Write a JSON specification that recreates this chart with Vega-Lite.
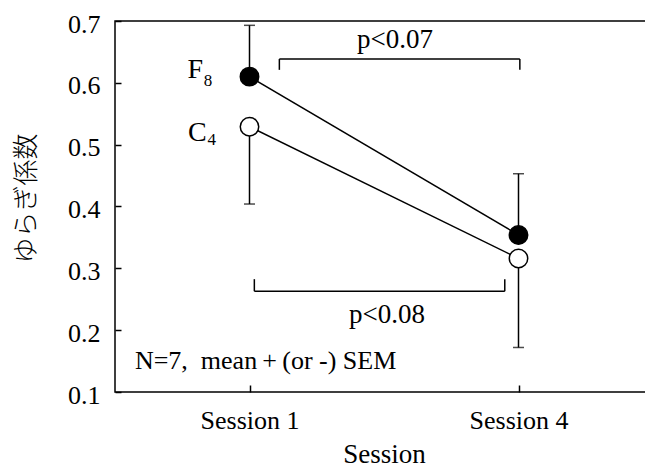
{
  "$schema": "https://vega.github.io/schema/vega-lite/v6.json",
  "width": 538,
  "height": 371,
  "autosize": "none",
  "padding": {"left": 115, "top": 21, "right": 0, "bottom": 76},
  "background": "white",
  "config": {
    "view": {"stroke": "black", "strokeWidth": 1.5},
    "font": "Liberation Serif",
    "axis": {"grid": false, "domain": false, "ticks": true, "labelColor": "black", "titleColor": "black", "tickColor": "black", "labelFont": "Liberation Serif", "titleFont": "Liberation Serif", "titleFontWeight": "normal", "zindex": 1}
  },
  "datasets": {
    "pts": [
      {"group": "F8", "session": "Session 1", "pos": 1, "val": 0.610, "err": 0.693},
      {"group": "C4", "session": "Session 1", "pos": 1, "val": 0.529, "err": 0.404},
      {"group": "F8", "session": "Session 4", "pos": 2, "val": 0.354, "err": 0.453},
      {"group": "C4", "session": "Session 4", "pos": 2, "val": 0.316, "err": 0.172}
    ],
    "caps": [
      {"group": "F8", "pos": 1, "val": 0.693},
      {"group": "C4", "pos": 1, "val": 0.404},
      {"group": "F8", "pos": 2, "val": 0.453},
      {"group": "C4", "pos": 2, "val": 0.172}
    ],
    "brackets": [
      {"pos": 1.111, "pos2": 2.005, "val": 0.6385, "val2": 0.6385},
      {"pos": 1.111, "pos2": 1.111, "val": 0.6385, "val2": 0.621},
      {"pos": 2.005, "pos2": 2.005, "val": 0.6385, "val2": 0.621},
      {"pos": 1.018, "pos2": 1.949, "val": 0.263, "val2": 0.263},
      {"pos": 1.018, "pos2": 1.018, "val": 0.263, "val2": 0.2825},
      {"pos": 1.949, "pos2": 1.949, "val": 0.263, "val2": 0.2825}
    ],
    "pvals": [
      {"text": "p<0.07", "pos": 1.541, "val": 0.656},
      {"text": "p<0.08", "pos": 1.511, "val": 0.2118}
    ],
    "note": [
      {"text": "N=7,\u00a0\u00a0mean\u2009+\u2009(or -) SEM", "pos": 0.574, "val": 0.138}
    ],
    "series": [
      {"text": "F", "pos": 0.827, "val": 0.608},
      {"text": "C", "pos": 0.841, "val": 0.5058}
    ],
    "subs": [
      {"text": "8", "pos": 0.83, "val": 0.5953},
      {"text": "4", "pos": 0.844, "val": 0.4994}
    ]
  },
  "encoding": {
    "x": {
      "field": "pos", "type": "quantitative",
      "scale": {"domain": [0.5, 2.5], "nice": false, "zero": false},
      "axis": {"title": "Session", "values": [1, 2], "labelExpr": "datum.value == 1 ? 'Session 1' : 'Session 4'", "offset": -7, "tickSize": 7, "tickWidth": 1.5, "labelPadding": 36, "labelBaseline": "alphabetic", "labelFont": "Liberation Serif", "labelFontSize": 26, "titleFontSize": 27, "titleY": 77, "titleBaseline": "alphabetic"}
    },
    "y": {
      "field": "val", "type": "quantitative",
      "scale": {"domain": [0.1, 0.7], "nice": false, "zero": false},
      "axis": {"title": "ゆらぎ係数", "titleFont": "Noto Sans CJK JP", "titleFontWeight": 300, "titleFontSize": 26, "values": [0.1, 0.2, 0.3, 0.4, 0.5, 0.6, 0.7], "format": ".1f", "offset": -6, "tickSize": 6, "tickWidth": 1.5, "labelPadding": 15, "labelFont": "Liberation Serif", "labelFontSize": 26, "labelOffset": 3, "titleX": -95, "titleY": 177, "titleAngle": -90, "titleAlign": "center", "titleBaseline": "middle"}
    }
  },
  "layer": [
    {
      "data": {"name": "pts"},
      "mark": {"type": "line", "color": "black", "strokeWidth": 1.5},
      "encoding": {"detail": {"field": "group"}}
    },
    {
      "data": {"name": "pts"},
      "mark": {"type": "rule", "color": "black", "strokeWidth": 1.5},
      "encoding": {"y2": {"field": "err"}}
    },
    {
      "data": {"name": "caps"},
      "mark": {"type": "tick", "orient": "horizontal", "size": 11, "thickness": 1.5, "color": "black"},
      "encoding": {}
    },
    {
      "data": {"name": "pts"},
      "mark": {"type": "point", "shape": "circle", "filled": true, "size": 340, "stroke": "black", "strokeWidth": 1.5, "opacity": 1},
      "encoding": {
        "fill": {"field": "group", "type": "nominal", "scale": {"domain": ["F8", "C4"], "range": ["black", "white"]}, "legend": null}
      }
    },
    {
      "data": {"name": "brackets"},
      "mark": {"type": "rule", "color": "black", "strokeWidth": 1.5},
      "encoding": {"x2": {"field": "pos2"}, "y2": {"field": "val2"}}
    },
    {
      "data": {"name": "pvals"},
      "mark": {"type": "text", "align": "center", "baseline": "alphabetic", "fontSize": 27, "color": "black"},
      "encoding": {"text": {"field": "text"}}
    },
    {
      "data": {"name": "note"},
      "mark": {"type": "text", "align": "left", "baseline": "alphabetic", "fontSize": 26, "color": "black"},
      "encoding": {"text": {"field": "text"}}
    },
    {
      "data": {"name": "series"},
      "mark": {"type": "text", "align": "right", "baseline": "alphabetic", "fontSize": 28, "color": "black"},
      "encoding": {"text": {"field": "text"}}
    },
    {
      "data": {"name": "subs"},
      "mark": {"type": "text", "align": "left", "baseline": "alphabetic", "fontSize": 17, "color": "black"},
      "encoding": {"text": {"field": "text"}}
    }
  ]
}
